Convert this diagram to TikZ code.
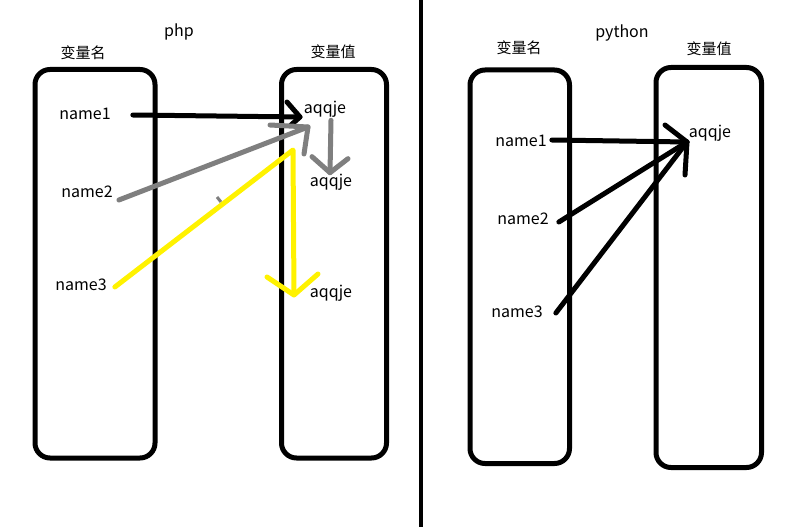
\documentclass[tikz,border=0pt]{standalone}
\usepackage{fontspec}
\setmainfont{Noto Sans CJK SC}
\usepackage{xcolor}
\usepackage{tikz}
\usetikzlibrary{calc}
\definecolor{pengray}{RGB}{127,127,127}
\definecolor{penyellow}{RGB}{255,242,0}

\tikzset{
  box/.style={line width=5pt, rounded corners=15pt},
  pen/.style={line width=5pt, line cap=round, line join=round},
  lbl/.style={font=\fontsize{16}{19}\selectfont, inner sep=0pt},
  ttl/.style={font=\fontsize{15}{18}\selectfont, inner sep=0pt}
}

\begin{document}
\begin{tikzpicture}[x=1pt, y=-1pt]
    \useasboundingbox (0,0) rectangle (812,527);

    % divider between the two panels
    \draw[line width=4pt] (421,0) -- (421,527);

    % ---------------- php ----------------
    \node[lbl] (php) at (179,32) {php};
    \node[ttl] (phpkey) at (83,53) {变量名};
    \node[ttl] (phpval) at (333,52) {变量值};
    \draw[box] (35,69.5) rectangle (155,458);
    \draw[box] (281.5,69.5) rectangle (386.5,458);

    \node[lbl] (pn1) at (85,114) {name1};
    \node[lbl] (pn2) at (87,192) {name2};
    \node[lbl] (pn3) at (81,285) {name3};
    \node[lbl] (pv1) at (325,109) {aqqje};
    \node[lbl] (pv2) at (331,182) {aqqje};
    \node[lbl] (pv3) at (331,293) {aqqje};

    \coordinate (tipA) at (300,117);
    \coordinate (tipG) at (308,127);
    \coordinate (ybend) at (293,150);
    \coordinate (tipY) at (294,295);
    \coordinate (tipD) at ([xshift=-1pt,yshift=1pt]pv2.north);

    % name1 -> aqqje
    \draw[pen] ([xshift=22pt,yshift=-1pt]pn1.east) -- (tipA);
    \draw[pen] (tipA) ++(-13,-15) -- (tipA) -- ++(-9,8);

    % name2 -> aqqje
    \draw[pen, pengray] ([xshift=6pt,yshift=-8pt]pn2.east) -- (tipG);
    \draw[pen, pengray] (tipG) ++(-38,-2) -- (tipG) -- ++(-4,27);
    \draw[pengray, line width=3pt] (217,197) -- (221,202);

    % aqqje -> aqqje
    \draw[pen, pengray] ([xshift=6pt,yshift=-3pt]pv1.south) -- (tipD);
    \draw[pen, pengray] (tipD) ++(-18,-16) -- (tipD) -- ++(18,-14);

    % name3 -> aqqje
    \draw[pen, penyellow] ([xshift=8pt,yshift=-2pt]pn3.east) -- (ybend) -- (tipY);
    \draw[pen, penyellow] (tipY) ++(-27,-18) -- (tipY) -- ++(24,-21);

    % ---------------- python ----------------
    \node[lbl] (py) at (622,33) {python};
    \node[ttl] (pykey) at (519,48) {变量名};
    \node[ttl] (pyval) at (709,49) {变量值};
    \draw[box] (470,70) rectangle (569.5,463.5);
    \draw[box] (656,67.5) rectangle (761.5,467.5);

    \node[lbl] (qn1) at (521,141) {name1};
    \node[lbl] (qn2) at (523,219) {name2};
    \node[lbl] (qn3) at (517,312) {name3};
    \node[lbl] (qv1) at (710,133) {aqqje};

    \coordinate (tipP) at (687,142);

    % all names -> one value
    \draw[pen] ([xshift=5pt,yshift=1pt]qn1.east) -- (tipP);
    \draw[pen] ([xshift=10pt,yshift=-3pt]qn2.east) -- (tipP);
    \draw[pen] ([xshift=13pt,yshift=-1pt]qn3.east) -- (tipP);
    \draw[pen] (tipP) ++(-22,-17) -- (tipP) -- ++(-2,33);
\end{tikzpicture}
\end{document}
